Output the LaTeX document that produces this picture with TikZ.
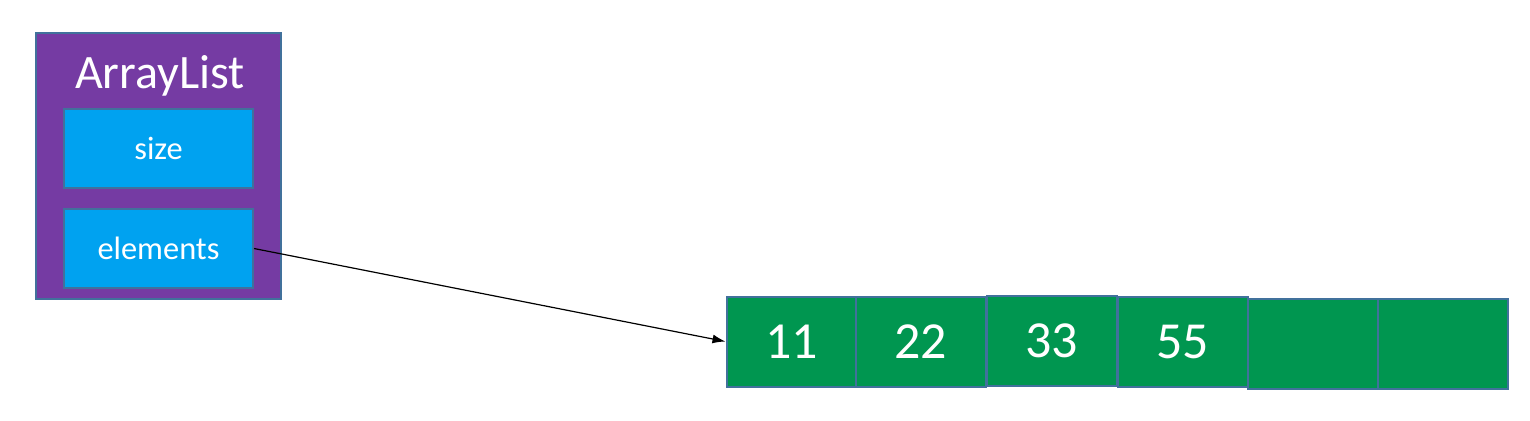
\documentclass[tikz,border=0pt]{standalone}
\usepackage{fontspec}
\setmainfont{Carlito}
\usetikzlibrary{arrows.meta}
\definecolor{listpurple}{RGB}{117,59,163}
\definecolor{fieldblue}{RGB}{0,162,240}
\definecolor{cellgreen}{RGB}{0,150,80}
\definecolor{edgeblue}{RGB}{65,113,156}
\begin{document}
\begin{tikzpicture}[x=0.5pt,y=0.5pt,yscale=-1,
  box/.style={draw=edgeblue,line width=1pt,inner sep=0pt,text=white},
  field/.style={box,fill=fieldblue,minimum width=94.5pt,minimum height=39.5pt,font=\fontsize{16.2}{19}\selectfont},
  cell/.style={box,fill=cellgreen,minimum width=65pt,minimum height=45pt,font=\fontsize{26}{30}\selectfont}]
\useasboundingbox (0,0) rectangle (1530,420);
%Shape: Rectangle [list object]
\node [box,fill=listpurple,minimum width=122.5pt,minimum height=133pt] (list) at (158.5,166) {};
% Text Node
\node [anchor=base,text=white,inner sep=0pt,font=\fontsize{24}{28}\selectfont] (title) at (160,88) {ArrayList};
%Shape: Rectangle [fields]
\node [field] (size) at (158.5,148.5) {size};
\node [field] (elements) at (158.5,248.5) {elements};
%Shape: Rectangle [array cells]
\foreach \n/\x/\y/\t in {1/791.5/341.5/11, 2/920.5/341.5/22, 3/1051.5/341/33, 4/1182.5/341.5/55, 5/1313/343.5/{}, 6/1442.5/343.5/{}}
  \node [cell] (c\n) at (\x,\y) {\t};
%Straight Lines
\draw [line width=0.6pt,-{Latex[length=6.5pt,width=4.5pt]}] (elements.east) -- (c1.west);
\end{tikzpicture}
\end{document}
